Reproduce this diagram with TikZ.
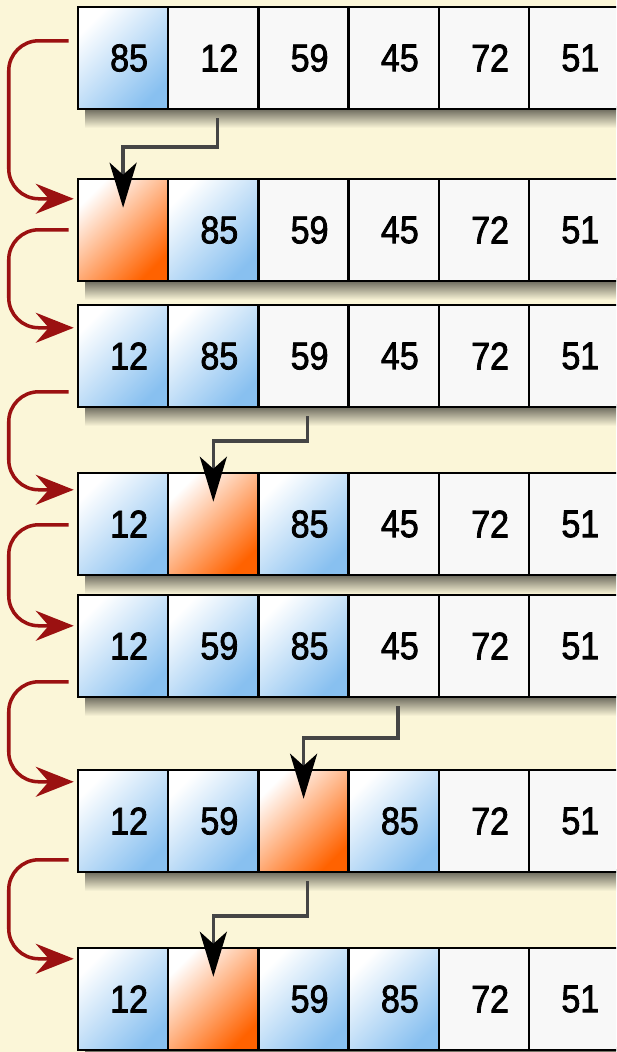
\documentclass[tikz,border=0pt]{standalone}
\usepackage{fontspec}
\usepackage{tikz}
\usetikzlibrary{calc,positioning,arrows.meta}
\newfontfamily\cellfont[FakeStretch=0.88,FakeBold=2]{Liberation Sans}
\definecolor{figCream}{HTML}{FBF6D8}
\definecolor{figBlue}{HTML}{88C0F0}
\definecolor{figOrange}{HTML}{FF6200}
\definecolor{figRed}{HTML}{9B1111}
\definecolor{figGray}{HTML}{454545}
\definecolor{figWhite}{HTML}{F8F8F8}

\begin{document}
\begin{tikzpicture}[
  cell/.style={draw, line width=1.4pt, minimum width=1.805cm, minimum height=2.04cm, inner sep=0pt,
    font=\cellfont\fontsize{22pt}{22pt}\selectfont, execute at begin node={\hspace*{0.24cm}}},
  plain/.style={cell, fill=figWhite},
  sorted/.style={cell, top color=white, bottom color=figBlue, shading angle=45},
  hole/.style={cell, top color=white, bottom color=figOrange, shading angle=45},
  rowshadow/.style={top color=black!65!figCream, bottom color=figCream},
  move/.style={-{Stealth[length=0.9cm, width=0.54cm, inset=0.24cm, black]}, draw=figGray, line width=2.1pt},
  pass/.style={-{Stealth[length=0.76cm, width=0.6cm, inset=0.26cm]}, draw=figRed, line width=2pt, rounded corners=0.6cm}
]
\clip (0,0) rectangle (12.32,-21.04);
\fill[figCream] (0,0) rectangle (12.32,-21.04);

% Shadows under the rows
\foreach \y in {-1.16, -4.60, -7.12, -10.48, -12.92, -16.42, -19.98}
  \shade[rowshadow] (1.70,\y-0.96) rectangle (12.32,\y-1.40);

% Rows of the array
\foreach \i/\c/\v in {1/sorted/85, 2/plain/12, 3/plain/59, 4/plain/45, 5/plain/72, 6/plain/51}
  \node[\c] (r1c\i) at ({2.462+(\i-1)*1.805}, -1.16) {\v};
\foreach \i/\c/\v in {1/hole/{}, 2/sorted/85, 3/plain/59, 4/plain/45, 5/plain/72, 6/plain/51}
  \node[\c] (r2c\i) at ({2.462+(\i-1)*1.805}, -4.60) {\v};
\foreach \i/\c/\v in {1/sorted/12, 2/sorted/85, 3/plain/59, 4/plain/45, 5/plain/72, 6/plain/51}
  \node[\c] (r3c\i) at ({2.462+(\i-1)*1.805}, -7.12) {\v};
\foreach \i/\c/\v in {1/sorted/12, 2/hole/{}, 3/sorted/85, 4/plain/45, 5/plain/72, 6/plain/51}
  \node[\c] (r4c\i) at ({2.462+(\i-1)*1.805}, -10.48) {\v};
\foreach \i/\c/\v in {1/sorted/12, 2/sorted/59, 3/sorted/85, 4/plain/45, 5/plain/72, 6/plain/51}
  \node[\c] (r5c\i) at ({2.462+(\i-1)*1.805}, -12.92) {\v};
\foreach \i/\c/\v in {1/sorted/12, 2/sorted/59, 3/hole/{}, 4/sorted/85, 5/plain/72, 6/plain/51}
  \node[\c] (r6c\i) at ({2.462+(\i-1)*1.805}, -16.42) {\v};
\foreach \i/\c/\v in {1/sorted/12, 2/hole/{}, 3/sorted/59, 4/sorted/85, 5/plain/72, 6/plain/51}
  \node[\c] (r7c\i) at ({2.462+(\i-1)*1.805}, -19.98) {\v};

% Passes from one row to the next
\foreach \a/\b/\s/\t in {1/2/0.70/0.42, 2/3/1.04/0.48, 3/4/1.76/0.36, 4/5/1.06/0.64, 5/6/1.76/0.26, 6/7/1.82/0.24}
  \draw[pass] ([xshift=-0.16cm, yshift=-\s cm]r\a c1.north west) -- ++(-1.2,0)
    |- ([xshift=-0.06cm, yshift=-\t cm]r\b c1.north west);

% Element taken out and dropped into the gap
\draw[move] ([xshift=0.08cm, yshift=-0.16cm]r1c2.south) |- ([yshift=0.62cm]r2c1.north) -- ([yshift=-0.6cm]r2c1.north);
\draw[move] ([xshift=0.08cm, yshift=-0.16cm]r3c3.south) |- ([yshift=0.62cm]r4c2.north) -- ([yshift=-0.6cm]r4c2.north);
\draw[move] ([xshift=0.08cm, yshift=-0.16cm]r5c4.south) |- ([yshift=0.62cm]r6c3.north) -- ([yshift=-0.6cm]r6c3.north);
\draw[move] ([xshift=0.08cm, yshift=-0.16cm]r6c3.south) |- ([yshift=0.62cm]r7c2.north) -- ([yshift=-0.6cm]r7c2.north);
\end{tikzpicture}
\end{document}
